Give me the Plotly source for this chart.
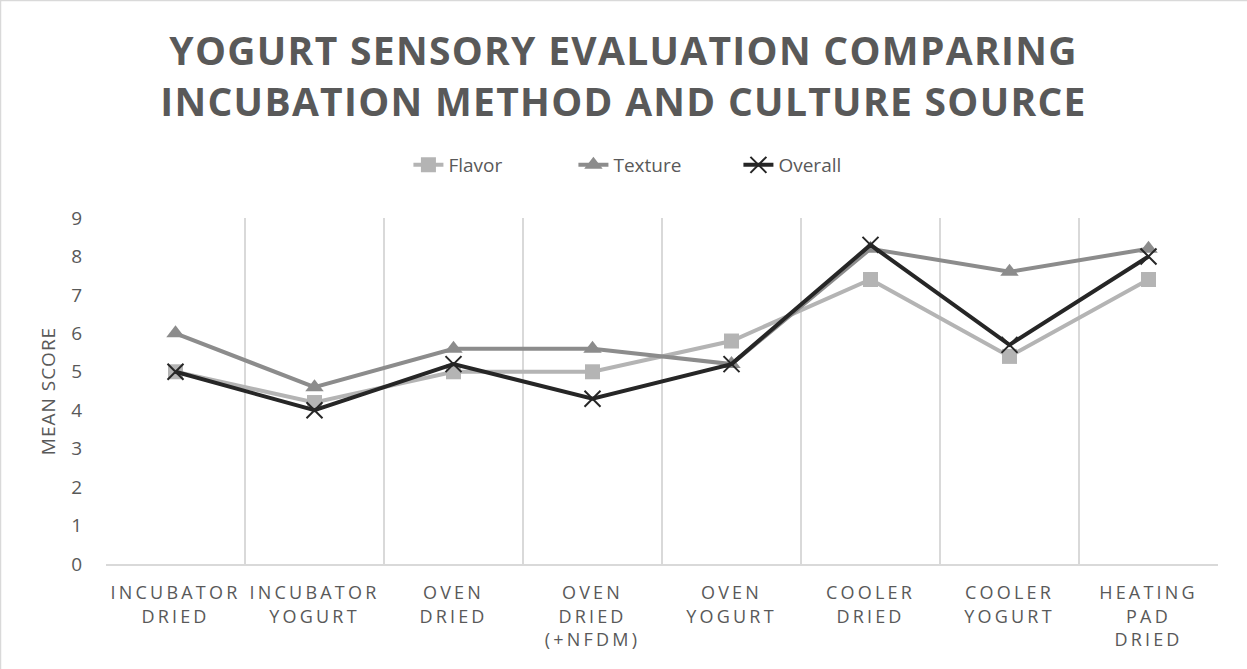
import plotly.graph_objects as go

categories = ["Incubator Dried", "Incubator Yogurt", "Oven Dried", "Oven Dried (+NFDM)",
              "Oven Yogurt", "Cooler Dried", "Cooler Yogurt", "Heating Pad Dried"]
tick_lines = [["INCUBATOR", "DRIED"], ["INCUBATOR", "YOGURT"], ["OVEN", "DRIED"],
              ["OVEN", "DRIED", "(+NFDM)"], ["OVEN", "YOGURT"], ["COOLER", "DRIED"],
              ["COOLER", "YOGURT"], ["HEATING", "PAD", "DRIED"]]
flavor = [5.0, 4.2, 5.0, 5.0, 5.8, 7.4, 5.4, 7.4]
texture = [6.0, 4.6, 5.6, 5.6, 5.2, 8.2, 7.6, 8.2]
overall = [5.0, 4.0, 5.2, 4.3, 5.2, 8.3, 5.7, 8.0]
y_ticks = list(range(0, 10))

TXT = "#595959"
FONT = "Open Sans"

def spaced(s, ls):
    return f'<span style="letter-spacing:{ls}px">{s}</span>'

ticktext = ["<br>".join(spaced(w, 3.2) for w in lines) for lines in tick_lines]

fig = go.Figure()
fig.add_trace(go.Scatter(x=categories, y=flavor, name="Flavor", mode="lines+markers",
                         line=dict(color="#B4B4B4", width=4),
                         marker=dict(symbol="square", size=15, color="#B4B4B4")))
fig.add_trace(go.Scatter(x=categories, y=texture, name="Texture", mode="lines+markers",
                         line=dict(color="#8C8C8C", width=4),
                         marker=dict(symbol="triangle-up", size=16, color="#8C8C8C")))
fig.add_trace(go.Scatter(x=categories, y=overall, name="Overall", mode="lines+markers",
                         line=dict(color="#262626", width=4),
                         marker=dict(symbol="x-thin", size=16, color="#262626",
                                     line=dict(color="#262626", width=2))))

W, H = 1247, 669
L, R, T, B = 106, 29, 218, 105
pw, ph = W - L - R, H - T - B

fig.update_layout(
    width=W, height=H,
    margin=dict(l=L, r=R, t=T, b=B),
    paper_bgcolor="white", plot_bgcolor="white",
    font=dict(family=FONT, color=TXT),
    title=dict(text=spaced("YOGURT SENSORY EVALUATION COMPARING", 1.3) + "<br>" +
               spaced("INCUBATION METHOD AND CULTURE SOURCE", 1.3),
               font=dict(size=39, color=TXT, family=FONT, weight="bold"),
               x=0.5, xanchor="center", xref="container",
               y=1 - 65 / H, yanchor="middle", yref="container"),
    legend=dict(orientation="h", x=0.526, xanchor="center", xref="container",
                y=1 - 165 / H, yanchor="middle", yref="container",
                font=dict(size=19, color=TXT, family=FONT),
                entrywidth=120, tracegroupgap=0),
    showlegend=True,
    xaxis=dict(type="category", categoryorder="array", categoryarray=categories,
               tickvals=categories, ticktext=ticktext, tickson="boundaries",
               range=[-0.5, 7.5], showgrid=True, gridcolor="#D9D9D9", gridwidth=1.5,
               showline=True, linecolor="#D9D9D9", linewidth=1.5,
               ticks="", ticklabelstandoff=12,
               tickfont=dict(size=18, color=TXT, family=FONT), zeroline=False),
    yaxis=dict(range=[0, 9], tickvals=y_ticks, showgrid=False, zeroline=False,
               showline=False, ticks="", ticklabelstandoff=23,
               tickfont=dict(size=19, color=TXT, family=FONT),
               title=dict(text=spaced("MEAN SCORE", 1),
                          font=dict(size=19, color=TXT, family=FONT), standoff=10)),
    shapes=[dict(type="rect", xref="paper", yref="paper",
                 x0=(0.5 - L) / pw, x1=(W + 5 - L) / pw,
                 y0=(H - B - (H + 5)) / ph, y1=(H - B - 0.5) / ph,
                 line=dict(color="#D9D9D9", width=1.5), fillcolor="rgba(0,0,0,0)",
                 layer="below")],
)

fig.write_html("out.html", config={"displayModeBar": False},
               post_script="document.body.style.margin='0';")
